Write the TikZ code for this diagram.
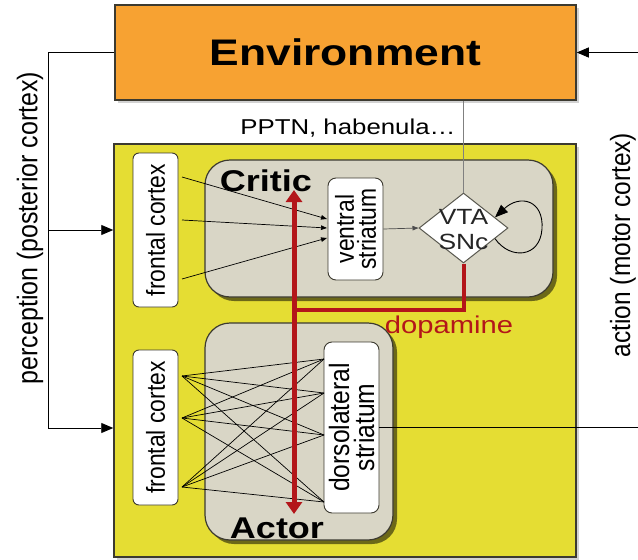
\documentclass[tikz,border=0pt]{standalone}
\usepackage{fontspec}
\setmainfont{Liberation Sans}
\newfontfamily\widefont[FakeStretch=1.2]{Liberation Sans}
\newfontfamily\tallfont[FakeStretch=0.88]{Liberation Sans}
\usetikzlibrary{arrows.meta,shapes.geometric,shadows,calc}
\definecolor{envorange}{HTML}{F7A232}
\definecolor{yel}{HTML}{E5DD33}
\definecolor{beige}{HTML}{D9D6C6}
\definecolor{dred}{HTML}{B3161A}
\definecolor{bord}{HTML}{3C3A30}
\newcommand\setfs[1]{\fontsize{#1}{#1}\selectfont}
\begin{document}
\begin{tikzpicture}[x=1pt,y=-1pt,
  conn/.style={draw=black, line width=0.9pt},
  thinconn/.style={draw=black, line width=0.7pt},
  bigtip/.style={-{Triangle[length=12pt,width=10pt]}},
  smalltip/.style={-{Triangle[length=6pt,width=4.5pt]}},
  graybox/.style={draw=bord, line width=1.2pt, fill=beige, rounded corners=25pt, inner sep=0pt,
    drop shadow={shadow xshift=4pt, shadow yshift=-4pt, fill=black!75!yel, opacity=0.7}},
  whitebox/.style={draw=bord, line width=0.9pt, fill=white, inner sep=0pt, rotate=90, align=center},
  redline/.style={draw=dred, line width=4pt},
  redarrow/.style={draw=dred, line width=5pt, {Triangle[length=12pt,width=16pt]}-{Triangle[length=12pt,width=16pt]}},
]
\useasboundingbox (0,0) rectangle (638,560);
\fill[white] (0,0) rectangle (638,560);

% main boxes
\node[draw=bord, line width=1.5pt, fill=envorange, minimum width=461pt, minimum height=95pt, inner sep=0pt,
  drop shadow={shadow xshift=3pt, shadow yshift=-3pt, opacity=0.35},
  font=\widefont\bfseries\setfs{37}] (env) at (345.5,52.5) {Environment};
\node[draw=bord, line width=1.5pt, fill=yel, minimum width=462pt, minimum height=413pt, inner sep=0pt,
  drop shadow={shadow xshift=3pt, shadow yshift=-3pt, opacity=0.35}] (main) at (345,350.5) {};
\node[graybox, minimum width=348pt, minimum height=137pt] (critic) at (379,228.5) {};
\node[graybox, minimum width=188pt, minimum height=217pt] (actor) at (299,431.5) {};

% inner boxes (rotated: .north = image left, .south = image right)
\node[whitebox, rounded corners=6pt, minimum width=154pt, minimum height=45pt, font=\tallfont\setfs{26}] (fc1) at (155.5,230) {frontal cortex};
\node[whitebox, rounded corners=6pt, minimum width=155pt, minimum height=45pt, font=\tallfont\setfs{26}] (fc2) at (155.5,427.5) {frontal cortex};
\node[whitebox, rounded corners=8pt, minimum width=102pt, minimum height=55pt, font=\tallfont\fontsize{26}{22}\selectfont] (vs) at (355.5,229) {ventral\\striatum};
\node[whitebox, rounded corners=8pt, minimum width=171pt, minimum height=55pt, font=\tallfont\fontsize{28}{25}\selectfont] (dls) at (351.5,427.5) {dorsolateral\\striatum};
\node[diamond, draw=bord!85, line width=1pt, fill=white, minimum width=89pt, minimum height=70pt, inner sep=0pt] (vta) at (463.5,228) {};
\node[font=\widefont\fontsize{22}{25}\selectfont, align=center, text=black!85] (vtalbl) at (463.5,230) {VTA\\SNc};

% perception / action connectors
\coordinate (ltop) at (48,52.5);
\coordinate (lmid) at (48,230);
\coordinate (lbot) at (48,428);
\draw[conn] (env.west) -- (ltop) -- (lbot);
\draw[conn,bigtip] (lmid) -- (lmid -| main.west);
\draw[conn,bigtip] (lbot) -- (lbot -| main.west);
\coordinate (rbot) at (641,427.5);
\coordinate (rtop) at (641,52.5);
\draw[conn] (dls.south) -- (rbot) -- (rtop);
\draw[conn,bigtip] (rtop) -- (env.east);

% PPTN line
\draw[draw=gray, line width=0.7pt] (env.south -| vta.north) -- (vta.north);
\node[anchor=east, font=\widefont\setfs{21.5}] (pptn) at (459,128) {PPTN, habenula…};

% critic connections
\coordinate (c1) at (182,177);
\coordinate (c2) at (182,220);
\coordinate (c3) at (182,279);
\coordinate (t1) at (327,219);
\coordinate (t2) at (327,228);
\coordinate (t3) at (327,238);
\draw[thinconn,smalltip] (c1) -- (t1);
\draw[thinconn,smalltip] (c2) -- (t2);
\draw[thinconn,smalltip] (c3) -- (t3);
\draw[draw=black!70, line width=0.7pt, smalltip] (vs.south) -- (vta.west);

% self loop
\draw[conn, -{Triangle[length=13pt,width=10pt]}] ($(vta.east)!0.3!(vta.south)$) .. controls (510,260) and (540,258) .. (542,229) .. controls (544,200) and (520,194) .. ($(vta.east)!0.3!(vta.north)$);

% actor fan
\coordinate (s1) at (182,376);
\coordinate (s2) at (182,418);
\coordinate (s3) at (182,487);
\coordinate (d1) at (324,359);
\coordinate (d2) at (324,393);
\coordinate (d3) at (324,435);
\coordinate (d4) at (324,502);
\foreach \s in {s1,s2,s3}{
  \foreach \d in {d1,d2,d3,d4}{
    \draw[thinconn] (\s) -- (\d);
  }
}

% dopamine
\coordinate (rj) at (294,310);
\draw[redline] (vta.south) |- (rj);
\coordinate (ra) at (294,190);
\coordinate (rb) at (294,514);
\draw[redarrow] (ra) -- (rb);
\node[font=\widefont\setfs{24.3}, text=dred] (dop) at (449,327) {dopamine};

% labels
\node[font=\widefont\bfseries\setfs{30}] (clbl) at (266,181) {Critic};
\node[font=\widefont\bfseries\setfs{30}] (albl) at (277,528) {Actor};
\node[rotate=90, font=\tallfont\setfs{28.4}] (perc) at (30,228) {perception (posterior cortex)};
\node[rotate=90, font=\tallfont\setfs{27.8}] (act) at (623,245) {action (motor cortex)};
\end{tikzpicture}
\end{document}
